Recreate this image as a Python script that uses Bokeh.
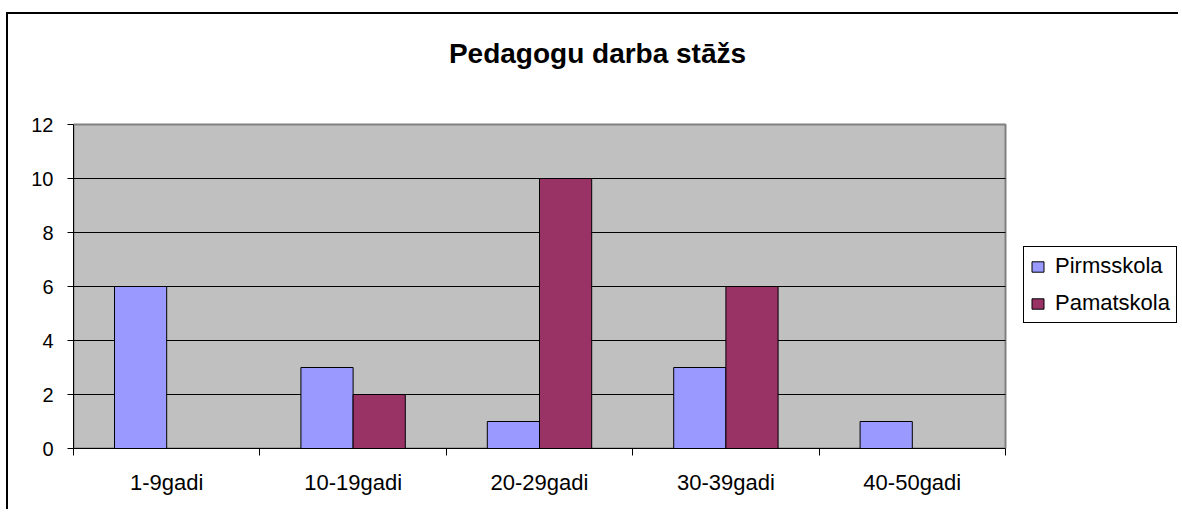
from bokeh.plotting import figure
from bokeh.models import (ColumnDataSource, FixedTicker, Range1d, Legend, LegendItem,
                          BoxAnnotation, Label)
from bokeh.embed import file_html
from bokeh.resources import INLINE

# ---- data ----
categories = ["1-9gadi", "10-19gadi", "20-29gadi", "30-39gadi", "40-50gadi"]
pirmsskola = [6, 3, 1, 3, 1]
pamatskola = [0, 2, 10, 6, 0]
y_ticks = [0, 2, 4, 6, 8, 10, 12]
series_names = ["Pirmsskola", "Pamatskola"]
title_text = "Pedagogu darba stāžs"

FONT = "Liberation Sans"
BAR_W = 0.28
N = len(categories)
YMAX = y_ticks[-1]

# ---- layout (pixels) ----
W, H = 1172, 497
BORDER_L, BORDER_B = 65, 63
PLOT_W, PLOT_H = 932, 324          # size of the grey plot area
frame_w = W - BORDER_L
frame_h = H - BORDER_B
x_end = N * frame_w / PLOT_W
y_end = YMAX * frame_h / PLOT_H

idx = list(range(N))
src = ColumnDataSource(dict(
    cat=categories,
    x1=[i + 0.5 - BAR_W / 2 for i in idx],
    x2=[i + 0.5 + BAR_W / 2 for i in idx],
    pirm=pirmsskola,
    pamat=pamatskola,
))

p = figure(width=W, height=H, output_backend="svg", toolbar_location=None,
           x_range=Range1d(0, x_end), y_range=Range1d(0, y_end),
           min_border_left=BORDER_L, min_border_right=0, min_border_top=0,
           min_border_bottom=BORDER_B)
p.styles = {"border-left": "2px solid black", "border-top": "2px solid black",
            "margin-top": "12px", "margin-left": "6px"}

p.background_fill_color = "white"
p.border_fill_color = "white"
p.outline_line_color = None

# grey plot area
p.add_layout(BoxAnnotation(left=0, right=N, bottom=0, top=YMAX, fill_color="#C0C0C0",
                           fill_alpha=1, line_color="#808080", line_alpha=1,
                           line_width=2, level="image"))

r1 = p.vbar(x="x1", top="pirm", width=BAR_W, source=src, fill_color="#9999FF",
            line_color="black", line_width=1)
r2 = p.vbar(x="x2", top="pamat", width=BAR_W, source=src, fill_color="#993366",
            line_color="black", line_width=1)

# grid
p.xgrid.visible = False
p.ygrid.ticker = FixedTicker(ticks=y_ticks[1:-1])
p.ygrid.cross_bounds = (0, N)
p.ygrid.grid_line_color = "black"
p.ygrid.grid_line_width = 1

# y axis
p.yaxis.ticker = FixedTicker(ticks=y_ticks)
p.yaxis.bounds = (0, YMAX)
p.yaxis.axis_line_color = "black"
p.yaxis.major_tick_in = 0
p.yaxis.major_tick_out = 6
p.yaxis.minor_tick_line_color = None
p.yaxis.major_label_standoff = 14
p.yaxis.major_label_text_font = FONT
p.yaxis.major_label_text_font_size = "20px"
p.yaxis.major_label_text_color = "black"

# x axis: labels at category centres, ticks at category boundaries
p.xaxis.ticker = FixedTicker(ticks=[i + 0.5 for i in idx], minor_ticks=list(range(N + 1)))
p.xaxis.bounds = (0, N)
p.xaxis.major_label_overrides = {i + 0.5: c for i, c in enumerate(categories)}
p.xaxis.major_tick_line_color = None
p.xaxis.major_tick_in = 0
p.xaxis.major_tick_out = 0
p.xaxis.minor_tick_in = 0
p.xaxis.minor_tick_out = 7
p.xaxis.minor_tick_line_color = "black"
p.xaxis.axis_line_color = "black"
p.xaxis.major_label_standoff = 14
p.xaxis.major_label_text_font = FONT
p.xaxis.major_label_text_font_size = "22px"
p.xaxis.major_label_text_color = "black"

# title
p.add_layout(Label(x=524, y=395, x_units="screen", y_units="screen", text=title_text,
                   text_align="center", text_baseline="middle", text_font=FONT,
                   text_font_size="28px", text_font_style="bold", text_color="black"))

# legend
legend = Legend(items=[LegendItem(label=series_names[0], renderers=[r1]),
                       LegendItem(label=series_names[1], renderers=[r2])],
                location=(950, 125), orientation="vertical",
                border_line_color="black", border_line_width=1, border_line_alpha=1,
                background_fill_color="white", background_fill_alpha=1,
                padding=6, margin=0, spacing=11,
                glyph_width=15, glyph_height=13, label_standoff=10,
                label_height=20, label_text_font=FONT, label_text_font_size="22px",
                label_text_baseline="middle", label_text_color="black")
p.add_layout(legend, "center")

open("out.html", "w").write(file_html(p, INLINE))
